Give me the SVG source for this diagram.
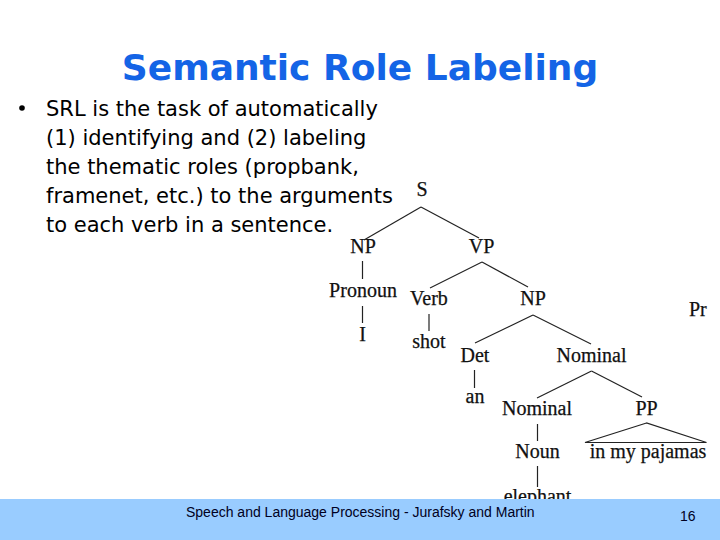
<svg xmlns="http://www.w3.org/2000/svg" width="720" height="540" viewBox="0 0 720 540">
<style>
.title{font-family:"DejaVu Sans",Verdana,sans-serif;font-weight:bold;font-size:36px;fill:#1464e6}
.body{font-family:"DejaVu Sans",Verdana,sans-serif;font-size:21px;fill:#000}
.t{font-family:"Liberation Serif","Times New Roman",serif;font-size:20px;fill:#111;stroke:#111;stroke-width:0.25}
.m{text-anchor:middle}
.e{stroke:#222;stroke-width:1.2;fill:none}
.foot{font-family:"Liberation Sans",Arial,sans-serif;font-size:14px;fill:#000022}
</style>
<rect width="720" height="540" fill="#ffffff"/>
<text class="title" x="360" y="80" text-anchor="middle">Semantic Role Labeling</text>
<g id="bullet">
<circle cx="22" cy="108" r="2.8" fill="#000"/>
<text class="body" x="46" y="116">SRL is the task of automatically</text>
<text class="body" x="46" y="145">(1) identifying and (2) labeling</text>
<text class="body" x="46" y="174">the thematic roles (propbank,</text>
<text class="body" x="46" y="203">framenet, etc.) to the arguments</text>
<text class="body" x="46" y="232">to each verb in a sentence.</text>
</g>
<g id="connectors">
<line class="e" x1="421" y1="207" x2="364" y2="240"/>
<line class="e" x1="421" y1="207" x2="479" y2="238"/>
<line class="e" x1="362.5" y1="261" x2="362.5" y2="279"/>
<line class="e" x1="362.5" y1="306" x2="362.5" y2="323"/>
<line class="e" x1="482" y1="262" x2="430" y2="288"/>
<line class="e" x1="482" y1="262" x2="528" y2="287"/>
<line class="e" x1="429" y1="314" x2="429" y2="331"/>
<line class="e" x1="533" y1="315" x2="475" y2="343"/>
<line class="e" x1="533" y1="315" x2="591" y2="344"/>
<line class="e" x1="474.5" y1="370" x2="474.5" y2="388"/>
<line class="e" x1="591.5" y1="371" x2="537" y2="398"/>
<line class="e" x1="591.5" y1="371" x2="642" y2="397"/>
<line class="e" x1="537.5" y1="424" x2="537.5" y2="441"/>
<polygon class="e" points="646.5,423 585,442.5 706.5,442.5"/>
<line class="e" x1="537.5" y1="466" x2="537.5" y2="487"/>
</g>
<g id="n-S"><text class="t m" x="422" y="196">S</text></g>
<g id="n-NP1"><text class="t m" x="363" y="253">NP</text></g>
<g id="n-VP"><text class="t m" x="481.5" y="253">VP</text></g>
<g id="n-Pronoun"><text class="t m" x="363" y="297">Pronoun</text></g>
<g id="n-I"><text class="t m" x="362.5" y="341">I</text></g>
<g id="n-Verb"><text class="t m" x="429" y="305">Verb</text></g>
<g id="n-NP2"><text class="t m" x="533" y="305">NP</text></g>
<g id="n-shot"><text class="t m" x="429" y="348">shot</text></g>
<g id="n-Det"><text class="t m" x="475" y="362">Det</text></g>
<g id="n-Nominal1"><text class="t m" x="591.5" y="362">Nominal</text></g>
<g id="n-an"><text class="t m" x="475" y="403">an</text></g>
<g id="n-Nominal2"><text class="t m" x="537" y="415">Nominal</text></g>
<g id="n-PP"><text class="t m" x="646.5" y="415">PP</text></g>
<g id="n-Noun"><text class="t m" x="537.5" y="458">Noun</text></g>
<g id="n-pajamas"><text class="t m" x="648" y="458">in my pajamas</text></g>
<g id="n-elephant"><text class="t m" x="537.5" y="503">elephant</text></g>
<g id="n-Pr"><text class="t" x="689" y="316">Pr</text></g>
<g id="footer">
<rect x="0" y="499" width="720" height="41" fill="#99ccff"/>
<text class="foot" x="186" y="517">Speech and Language Processing - Jurafsky and Martin</text>
<text class="foot" x="680" y="521">16</text>
</g>
</svg>
